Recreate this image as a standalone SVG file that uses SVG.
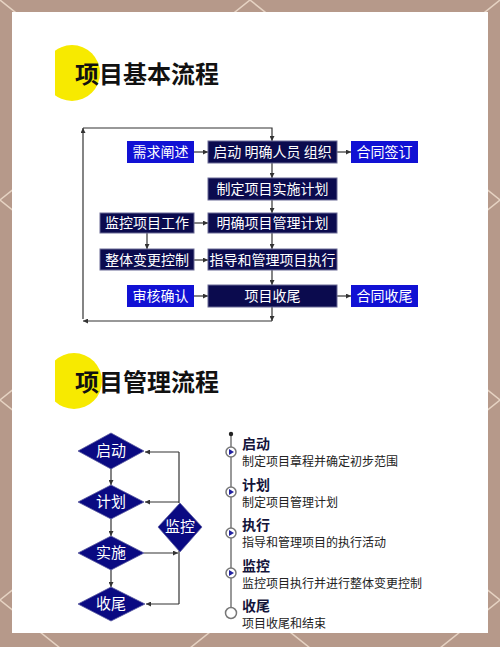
<svg xmlns="http://www.w3.org/2000/svg" width="500" height="647" viewBox="0 0 500 647">
<defs>
<marker id="ah" viewBox="0 0 6 6" refX="6" refY="3" markerWidth="5" markerHeight="5" markerUnits="userSpaceOnUse" orient="auto">
<path d="M0,0 L6,3 L0,6 Z" fill="#333"/>
</marker>
<clipPath id="c1"><rect x="55" y="0" width="100" height="647"/></clipPath>
<style>
.t{font-family:"Noto Sans CJK SC","Noto Sans",sans-serif}
.title{font-size:24px;font-weight:bold;fill:#111}
.bl{fill:#1111d4}
.dk{fill:#0b0b4e;stroke:#6b6b95;stroke-width:1}
.bt{font-size:14px;fill:#fff;text-anchor:middle}
.cn{stroke:#333;stroke-width:1.2;fill:none}
.dm{fill:#0a0a82;stroke:#5a5aa0;stroke-width:0.8}
.dt{font-size:15px;fill:#fff;text-anchor:middle}
.h{font-size:14px;font-weight:bold;fill:#14143a}
.d{font-size:12px;fill:#222}
.mk{fill:#fff;stroke:#777;stroke-width:1.5}
.pl{fill:#2222a0}
.lat{stroke:#e6d3c3;stroke-width:1.5;fill:none}
</style>
</defs>
<rect x="0" y="0" width="500" height="647" fill="#b6998a"/>
<g class="lat">
<line x1="0" y1="-400" x2="500" y2="0"/>
<line x1="0" y1="-200" x2="500" y2="200"/>
<line x1="0" y1="0" x2="500" y2="400"/>
<line x1="0" y1="200" x2="500" y2="600"/>
<line x1="0" y1="400" x2="500" y2="800"/>
<line x1="0" y1="600" x2="500" y2="1000"/>
<line x1="500" y1="-400" x2="0" y2="0"/>
<line x1="500" y1="-200" x2="0" y2="200"/>
<line x1="500" y1="0" x2="0" y2="400"/>
<line x1="500" y1="200" x2="0" y2="600"/>
<line x1="500" y1="400" x2="0" y2="800"/>
<line x1="500" y1="600" x2="0" y2="1000"/>
</g>
<rect x="12" y="12" width="476" height="621" fill="#fff"/>

<g id="title1">
<circle cx="72" cy="73" r="28" fill="#f7ea00" clip-path="url(#c1)"/>
<text class="t title" x="75" y="83">项目基本流程</text>
</g>
<g id="title2">
<circle cx="74" cy="381" r="28" fill="#f7ea00" clip-path="url(#c1)"/>
<text class="t title" x="75" y="391">项目管理流程</text>
</g>

<g id="connectors">
<line class="cn" x1="194" y1="152" x2="208" y2="152" marker-end="url(#ah)"/>
<line class="cn" x1="337" y1="152" x2="351" y2="152" marker-end="url(#ah)"/>
<line class="cn" x1="272" y1="163" x2="272" y2="178" marker-end="url(#ah)"/>
<line class="cn" x1="272" y1="200" x2="272" y2="213" marker-end="url(#ah)"/>
<line class="cn" x1="194" y1="223" x2="208" y2="223" marker-end="url(#ah)"/>
<line class="cn" x1="147" y1="233" x2="147" y2="249" marker-end="url(#ah)"/>
<line class="cn" x1="272" y1="233" x2="272" y2="249" marker-end="url(#ah)"/>
<line class="cn" x1="194" y1="260" x2="208" y2="260" marker-end="url(#ah)"/>
<line class="cn" x1="272" y1="270" x2="272" y2="285" marker-end="url(#ah)"/>
<line class="cn" x1="194" y1="296" x2="208" y2="296" marker-end="url(#ah)"/>
<line class="cn" x1="337" y1="296" x2="351" y2="296" marker-end="url(#ah)"/>
<line class="cn" x1="272" y1="307" x2="272" y2="321" marker-end="url(#ah)"/>
<line class="cn" x1="272" y1="321" x2="83" y2="321" marker-end="url(#ah)"/>
<line class="cn" x1="83" y1="319" x2="83" y2="128" marker-end="url(#ah)"/>
<polyline class="cn" points="83,128 272,128 272,141" marker-end="url(#ah)"/>

<line class="cn" x1="111" y1="468" x2="111" y2="485" marker-end="url(#ah)"/>
<line class="cn" x1="111" y1="519" x2="111" y2="536" marker-end="url(#ah)"/>
<line class="cn" x1="111" y1="570" x2="111" y2="587" marker-end="url(#ah)"/>
<line class="cn" x1="179" y1="503" x2="179" y2="452"/>
<line class="cn" x1="179" y1="452" x2="145" y2="452" marker-end="url(#ah)"/>
<line class="cn" x1="179" y1="502" x2="145" y2="502" marker-end="url(#ah)"/>
<line class="cn" x1="144" y1="553" x2="178" y2="553" marker-end="url(#ah)"/>
<line class="cn" x1="179" y1="551" x2="179" y2="604"/>
<line class="cn" x1="179" y1="604" x2="146" y2="604" marker-end="url(#ah)"/>
</g>

<g id="n-xuqiu"><rect class="bl" x="127" y="141" width="67" height="22"/><text class="t bt" x="160.5" y="157">需求阐述</text></g>
<g id="n-qidong"><rect class="dk" x="208" y="141" width="129" height="22"/><text class="t bt" x="272.5" y="157">启动 明确人员 组织</text></g>
<g id="n-hetong"><rect class="bl" x="351" y="141" width="67" height="22"/><text class="t bt" x="384.5" y="157">合同签订</text></g>
<g id="n-zhiding"><rect class="dk" x="208" y="178" width="129" height="22"/><text class="t bt" x="272.5" y="194">制定项目实施计划</text></g>
<g id="n-jiankong"><rect class="dk" x="100" y="213" width="94" height="20"/><text class="t bt" x="147" y="228">监控项目工作</text></g>
<g id="n-mingque"><rect class="dk" x="208" y="213" width="129" height="20"/><text class="t bt" x="272.5" y="228">明确项目管理计划</text></g>
<g id="n-zhengti"><rect class="dk" x="100" y="249" width="94" height="21"/><text class="t bt" x="147" y="265">整体变更控制</text></g>
<g id="n-zhidao"><rect class="dk" x="208" y="249" width="129" height="21"/><text class="t bt" x="272.5" y="265">指导和管理项目执行</text></g>
<g id="n-shenhe"><rect class="bl" x="127" y="285" width="67" height="22"/><text class="t bt" x="160.5" y="301">审核确认</text></g>
<g id="n-shouwei"><rect class="dk" x="208" y="285" width="129" height="22"/><text class="t bt" x="272.5" y="301">项目收尾</text></g>
<g id="n-hetongsw"><rect class="bl" x="351" y="285" width="67" height="22"/><text class="t bt" x="384.5" y="301">合同收尾</text></g>

<g id="d-qidong"><polygon class="dm" points="78,451 111,433 144,451 111,469"/><text class="t dt" x="111" y="456">启动</text></g>
<g id="d-jihua"><polygon class="dm" points="78,502 111,485 144,502 111,519"/><text class="t dt" x="111" y="507">计划</text></g>
<g id="d-shishi"><polygon class="dm" points="78,553 111,536 144,553 111,570"/><text class="t dt" x="111" y="558">实施</text></g>
<g id="d-shouwei"><polygon class="dm" points="78,604 111,587 145,604 111,621"/><text class="t dt" x="111" y="609">收尾</text></g>
<g id="d-jiankong"><polygon class="dm" points="158,527 180,503 202,527 180,552"/><text class="t dt" x="180" y="532">监控</text></g>

<g id="timeline">
<line x1="231" y1="434" x2="231" y2="608" stroke="#777" stroke-width="1.5"/>
<circle cx="231" cy="434" r="2.2" fill="#222"/>
<circle class="mk" cx="231" cy="452" r="5"/><path class="pl" d="M229,449 L234,452 L229,455 Z"/>
<circle class="mk" cx="231" cy="492" r="5"/><path class="pl" d="M229,489 L234,492 L229,495 Z"/>
<circle class="mk" cx="231" cy="533" r="5"/><path class="pl" d="M229,530 L234,533 L229,536 Z"/>
<circle class="mk" cx="231" cy="573" r="5"/><path class="pl" d="M229,570 L234,573 L229,576 Z"/>
<circle class="mk" cx="231" cy="613" r="5.5"/>
</g>
<g id="s-qidong"><text class="t h" x="242" y="449">启动</text><text class="t d" x="242" y="466">制定项目章程并确定初步范围</text></g>
<g id="s-jihua"><text class="t h" x="242" y="490">计划</text><text class="t d" x="242" y="507">制定项目管理计划</text></g>
<g id="s-zhixing"><text class="t h" x="242" y="530">执行</text><text class="t d" x="242" y="547">指导和管理项目的执行活动</text></g>
<g id="s-jiankong"><text class="t h" x="242" y="571">监控</text><text class="t d" x="242" y="588">监控项目执行并进行整体变更控制</text></g>
<g id="s-shouwei"><text class="t h" x="242" y="611">收尾</text><text class="t d" x="242" y="628">项目收尾和结束</text></g>
</svg>
